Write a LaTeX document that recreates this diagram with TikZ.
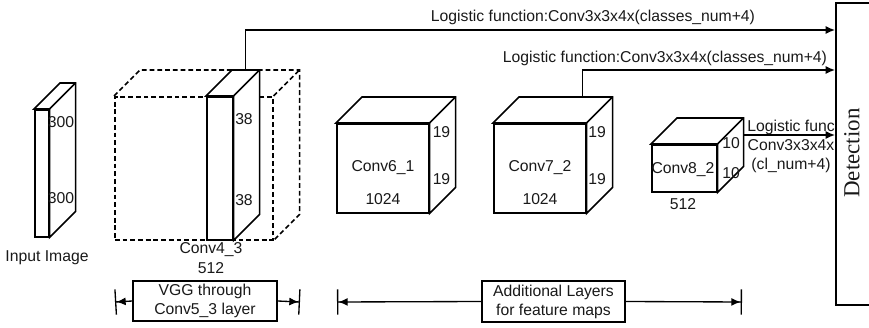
\documentclass[tikz,border=0pt]{standalone}
\usepackage{fontspec}
\setmainfont{Liberation Sans}
\newfontfamily\detserif{Liberation Serif}
\usetikzlibrary{arrows.meta,positioning,calc}
\newcommand{\lblsize}{\fontsize{11.8}{14.2}\selectfont}

\begin{document}
\begin{tikzpicture}[
 x=0.75pt,y=-0.75pt,
 face/.style={draw,line width=1.15pt,fill=white,inner sep=0pt,anchor=north west},
 ghost/.style={draw,line width=1.15pt,dash pattern=on 3.6pt off 2.2pt,inner sep=0pt,anchor=north west},
 lbl/.style={font=\lblsize,text=black!90,inner sep=0pt,align=center},
 tag/.style={draw,line width=1pt,inner sep=0pt,font=\lblsize,text=black!90,align=center},
 arrow/.style={-{Latex[length=7pt,width=6pt]},line width=1pt},
 span/.style={-{Latex[length=7pt,width=6pt]Bar[width=19pt,line width=1pt]},line width=1pt}
]
\clip (0,0) rectangle (869,328);

% dashed VGG block behind conv4_3
\node[ghost,minimum width=118.5pt,minimum height=107.25pt] (vggblock) at (114,96) {};
\draw[line width=1.15pt,dash pattern=on 3.6pt off 2.2pt]
  (vggblock.north west) -- ++(26,-26) -- ([shift={(26,-26)}]vggblock.north east)
  -- ([shift={(26,-26)}]vggblock.south east) -- (vggblock.south east)
  (vggblock.north east) -- ++(26,-26);

% feature map blocks (front faces)
\node[face,minimum width=10.5pt,minimum height=95.25pt] (inp) at (34,109) {};
\node[face,minimum width=19.5pt,minimum height=107.25pt] (conv43) at (206,96) {};
\node[face,minimum width=69pt,minimum height=66.75pt] (conv61) at (336,123) {};
\node[face,minimum width=69pt,minimum height=66.75pt] (conv72) at (493,123) {};
\node[face,minimum width=48.75pt,minimum height=35.25pt] (conv82) at (651,144) {};

% top and side faces
\foreach \c in {inp,conv43,conv61,conv72,conv82}{
  \filldraw[fill=white,line width=1.15pt] (\c.north west) -- ++(26,-26)
    -- ([shift={(26,-26)}]\c.north east) -- ([shift={(26,-26)}]\c.south east)
    -- (\c.south east) -- (\c.north east) -- cycle;
  \draw[line width=1.15pt] (\c.north east) -- ++(26,-26);
}

% sizes
\node[lbl] (inp300a) at (61,122) {300};
\node[lbl] (inp300b) at (61,198) {300};
\node[lbl] (inpname) at (47,258) {Input Image};
\node[lbl] (c43a) at (244,119) {38};
\node[lbl] (c43b) at (244,200) {38};
\node[lbl] (c43name) at (211,250) {Conv4\_3};
\node[lbl] (c43ch) at (211,268) {512};
\node[lbl] (c61a) at (441.5,132) {19};
\node[lbl] (c61b) at (441.5,179) {19};
\node[lbl] (c61name) at (383,168) {Conv6\_1};
\node[lbl] (c61ch) at (383,199) {1024};
\node[lbl] (c72a) at (597,132) {19};
\node[lbl] (c72b) at (597,179) {19};
\node[lbl] (c72name) at (540,168) {Conv7\_2};
\node[lbl] (c72ch) at (540,199) {1024};
\node[lbl] (c82a) at (731,143) {10};
\node[lbl] (c82b) at (731,173) {10};
\node[lbl] (c82name) at (683,170) {Conv8\_2};
\node[lbl] (c82ch) at (683,204) {512};

% detection head
\node[draw,line width=1.15pt,anchor=north west,minimum width=45pt,minimum height=226.5pt] (det) at (835,2) {};
\node[rotate=90,font=\detserif\fontsize{17.2}{18}\selectfont,text=black!90] (dettext) at (852,153) {Detection};

% predictions into the detection head
\draw[arrow] ([shift={(26,-26)}]conv43.north) |- (det.west |- 0,30);
\node[lbl] (logit1) at (593,17) {Logistic function:Conv3x3x4x(classes\_num+4)};
\draw[arrow] ([shift={(43,-26)}]conv72.north) |- (det.west |- 0,70);
\node[lbl] (logit2) at (665,58) {Logistic function:Conv3x3x4x(classes\_num+4)};
\draw[arrow] ([shift={(26,-9)}]conv82.north east) -- (det.west |- 0,135);
\node[lbl] (logit3) at (791,146) {Logistic func\\Conv3x3x4x\\(cl\_num+4)};

% layer groups
\node[tag,minimum width=108pt,minimum height=30pt] (vgg) at (205,301) {VGG through\\Conv5\_3 layer};
\node[tag,minimum width=107.25pt,minimum height=30.75pt] (extra) at (553.5,301.5) {Additional Layers\\for feature maps};
\coordinate (vggL) at (115,302);
\coordinate (vggR) at (300,302);
\coordinate (extraL) at (337,302);
\coordinate (extraR) at (742,302);
\draw[span] (vgg.west) -- (vggL);
\draw[span] (vgg.east) -- (vggR);
\draw[span] (extra.west) -- (extraL);
\draw[span] (extra.east) -- (extraR);
\end{tikzpicture}
\end{document}
